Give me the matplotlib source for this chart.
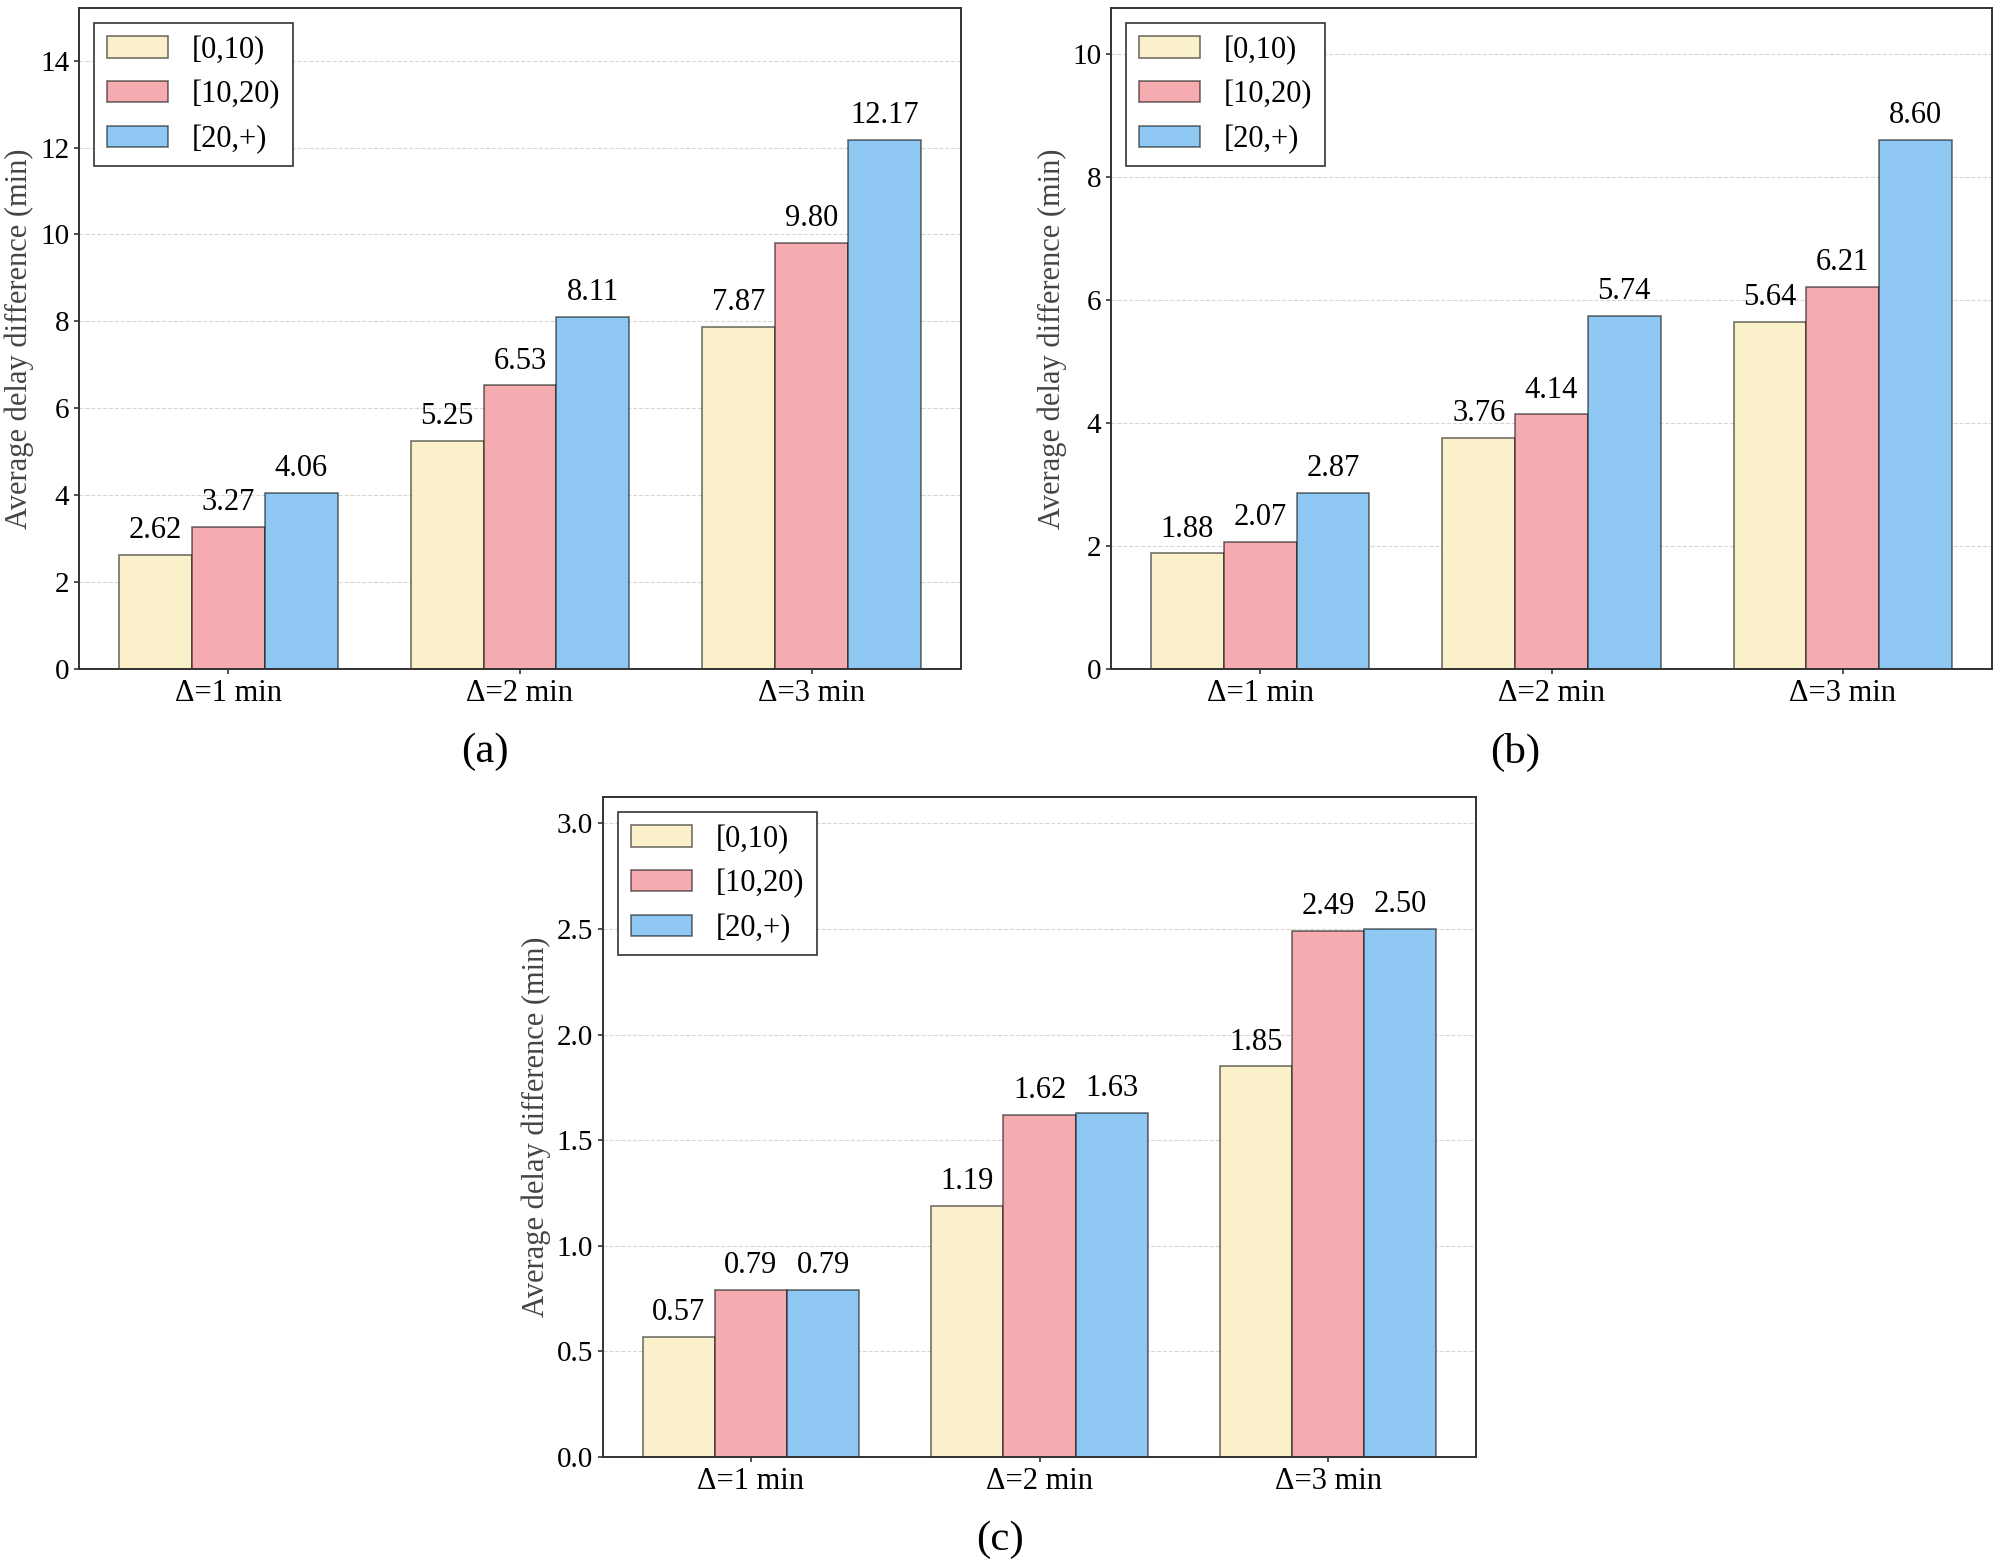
import numpy as np
import matplotlib
matplotlib.use('Agg')
import matplotlib.pyplot as plt

plt.rcParams['font.family'] = ['Liberation Serif', 'DejaVu Serif']

# 数据
groups = ['Δ=1 min', 'Δ=2 min', 'Δ=3 min']
bins = ['[0,10)', '[10,20)', '[20,+)']
colors = ['#FAF0C9', '#F4ACB0', '#8EC8F3']

vals_a = [[2.62, 5.25, 7.87], [3.27, 6.53, 9.80], [4.06, 8.11, 12.17]]
vals_b = [[1.88, 3.76, 5.64], [2.07, 4.14, 6.21], [2.87, 5.74, 8.60]]
vals_c = [[0.57, 1.19, 1.85], [0.79, 1.62, 2.49], [0.79, 1.63, 2.50]]

W, H = 2000, 1561
fig = plt.figure(figsize=(W / 100, H / 100), dpi=100)


def px_axes(l, t, r, b):
    return fig.add_axes([l / W, 1 - b / H, (r - l) / W, (b - t) / H])


def draw(ax, vals):
    x = np.arange(len(groups))
    width = 0.25
    for i, v in enumerate(vals):
        bars = ax.bar(x + (i - 1) * width, v, width, color=colors[i],
                      edgecolor=(0, 0, 0, 0.55), linewidth=1.2, label=bins[i], zorder=2)
        ax.bar_label(bars, labels=['%.2f' % a for a in v], padding=7, fontsize=22)
    ax.set_ylim(0, max(max(v) for v in vals) * 1.25)
    ax.set_xticks(x)
    ax.set_xticklabels(groups, fontsize=22)
    ax.tick_params(axis='y', labelsize=21)
    ax.tick_params(width=1.2, color='#333333')
    ax.set_ylabel('Average delay difference (min)', fontsize=22, color='#444444')
    ax.grid(axis='y', linestyle='--', color='#cccccc', linewidth=0.8, alpha=0.8, zorder=0)
    ax.set_axisbelow(True)
    for s in ax.spines.values():
        s.set_linewidth(1.4)
        s.set_color('#333333')
    leg = ax.legend(loc='upper left', fontsize=22, fancybox=False, framealpha=1)
    leg.get_frame().set_edgecolor('#333333')
    leg.get_frame().set_linewidth(1.2)


ax_a = px_axes(79, 8, 961, 669)
ax_b = px_axes(1111, 8, 1992, 669)
ax_c = px_axes(603, 797, 1476, 1457)
draw(ax_a, vals_a)
draw(ax_b, vals_b)
draw(ax_c, vals_c)

fig.text(485 / W, 1 - 752 / H, '(a)', fontsize=31, ha='center', va='center')
fig.text(1515 / W, 1 - 752 / H, '(b)', fontsize=31, ha='center', va='center')
fig.text(1000 / W, 1 - 1540 / H, '(c)', fontsize=31, ha='center', va='center')

plt.savefig('out.png', dpi=100)
